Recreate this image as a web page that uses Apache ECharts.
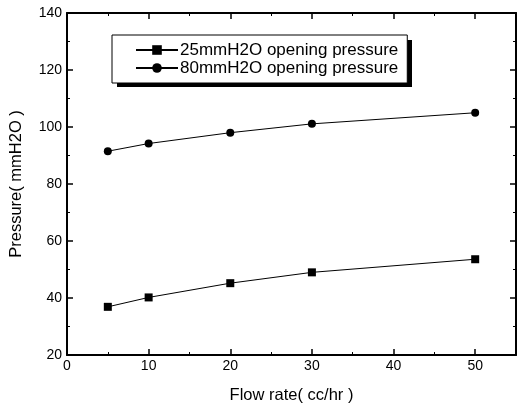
<!DOCTYPE html>
<html>
<head>
<meta charset="utf-8">
<script src="https://cdn.jsdelivr.net/npm/echarts@6/dist/echarts.min.js"></script>
<style>
  html, body { margin: 0; padding: 0; background: #fff; }
  #chart { width: 521px; height: 410px; }
</style>
</head>
<body>
<div id="chart"></div>
<script>
// values
const flowRate = [5, 10, 20, 30, 50];
const pressure25 = [36.9, 40.2, 45.2, 49.0, 53.6];
const pressure80 = [91.5, 94.2, 98.0, 101.1, 105.0];
const seriesNames = ['25mmH2O opening pressure', '80mmH2O opening pressure'];

const font = 'Liberation Sans, Arial, sans-serif';

const chart = echarts.init(document.getElementById('chart'));

const toPairs = (xs, ys) => xs.map((x, i) => [x, ys[i]]);

const tickStyle = { show: true, inside: true, length: 6, lineStyle: { color: '#000', width: 1.5 } };
const minorStyle = { show: true, splitNumber: 2, length: 3, lineStyle: { color: '#000', width: 1 } };
const lineStyle = { onZero: false, lineStyle: { color: '#000', width: 2 } };

const option = {
  backgroundColor: '#fff',
  animation: false,
  textStyle: { fontFamily: font },
  grid: { left: 67, right: 5, top: 13, bottom: 55 },
  // drop shadow behind the legend box
  graphic: [{
    type: 'rect',
    left: 117, top: 40, z: 0,
    shape: { width: 295, height: 47 },
    style: { fill: '#000' }
  }],
  legend: {
    orient: 'vertical',
    left: 112,
    top: 35,
    z: 10,
    padding: [6, 9, 6, 23],
    itemWidth: 42,
    itemHeight: 12,
    itemGap: 0,
    itemStyle: { color: '#000' },
    textStyle: { fontFamily: font, fontSize: 17, lineHeight: 18, color: '#000', padding: [0, 0, 0, -3] },
    borderColor: '#000',
    borderWidth: 1,
    backgroundColor: '#fff',
    data: seriesNames
  },
  xAxis: [{
    type: 'value',
    min: 0, max: 55, interval: 10,
    name: 'Flow rate( cc/hr )',
    nameLocation: 'middle',
    nameGap: 32,
    nameTextStyle: { fontFamily: font, fontSize: 16.5, color: '#000' },
    axisLine: lineStyle,
    axisTick: tickStyle,
    minorTick: minorStyle,
    axisLabel: {
      fontFamily: font, fontSize: 14, color: '#000', margin: 4,
      formatter: v => (v % 10 === 0 && v <= 50 ? v : '')
    },
    splitLine: { show: false }
  }, {
    type: 'value',
    position: 'top',
    min: 0, max: 55, interval: 10,
    axisLine: lineStyle,
    axisTick: tickStyle,
    minorTick: minorStyle,
    axisLabel: { show: false },
    splitLine: { show: false }
  }],
  yAxis: [{
    type: 'value',
    min: 20, max: 140, interval: 20,
    name: 'Pressure( mmH2O )',
    nameLocation: 'middle',
    nameGap: 42,
    nameTextStyle: { fontFamily: font, fontSize: 16.5, color: '#000' },
    axisLine: Object.assign({ show: true }, lineStyle),
    axisTick: tickStyle,
    minorTick: minorStyle,
    axisLabel: { fontFamily: font, fontSize: 14, color: '#000', margin: 5 },
    splitLine: { show: false }
  }, {
    type: 'value',
    position: 'right',
    min: 20, max: 140, interval: 20,
    axisLine: Object.assign({ show: true }, lineStyle),
    axisTick: tickStyle,
    minorTick: minorStyle,
    axisLabel: { show: false },
    splitLine: { show: false }
  }],
  series: [{
    name: seriesNames[0],
    type: 'line',
    data: toPairs(flowRate, pressure25),
    symbol: 'rect',
    symbolSize: 8,
    itemStyle: { color: '#000' },
    lineStyle: { color: '#000', width: 1 }
  }, {
    name: seriesNames[1],
    type: 'line',
    data: toPairs(flowRate, pressure80),
    symbol: 'circle',
    symbolSize: 8,
    itemStyle: { color: '#000' },
    lineStyle: { color: '#000', width: 1 }
  }]
};

chart.setOption(option);
</script>
</body>
</html>
